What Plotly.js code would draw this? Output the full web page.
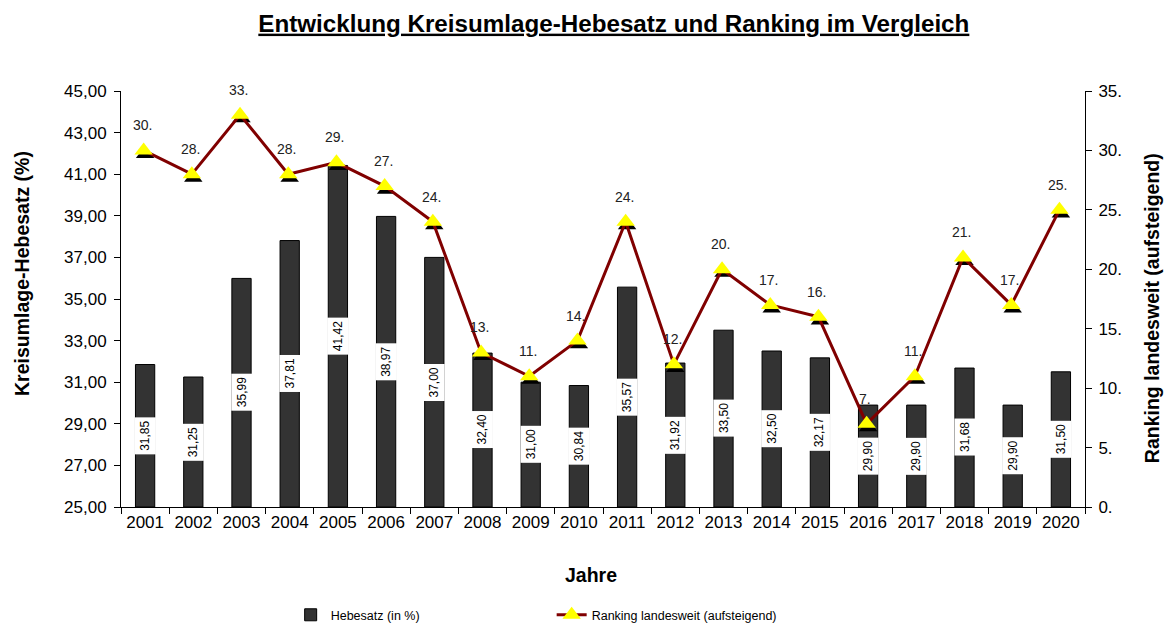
<!DOCTYPE html>
<html><head><meta charset="utf-8">
<script src="https://cdn.plot.ly/plotly-3.0.1.min.js"></script>
<style>body{margin:0;background:#fff}#c{width:1167px;height:627px}#err{position:absolute;left:0;top:0;color:red;font:12px monospace}</style>
</head><body><div id="c"></div><div id="err"></div>
<script>
window.onerror = function(m){ document.getElementById('err').textContent += ' ERR: ' + m; };
const years = ["2001","2002","2003","2004","2005","2006","2007","2008","2009","2010","2011","2012","2013","2014","2015","2016","2017","2018","2019","2020"];
const hebesatz = [31.85,31.25,35.99,37.81,41.42,38.97,37.00,32.40,31.00,30.84,35.57,31.92,33.50,32.50,32.17,29.90,29.90,31.68,29.90,31.50];
const ranking = [30,28,33,28,29,27,24,13,11,14,24,12,20,17,16,7,11,21,17,25];
const leftTicks = [25,27,29,31,33,35,37,39,41,43,45];
const rightTicks = [0,5,10,15,20,25,30,35];

const fmt = v => v.toFixed(2).replace('.', ',');
const F = 'Liberation Sans, Arial, sans-serif';

const traces = [
  {type:'bar', x:years, y:hebesatz.map(v=>v-25), base:25, name:'Hebesatz (in %)',
   marker:{color:'#333333', line:{color:'#000', width:1}}, width:0.4, xaxis:'x', yaxis:'y',
   hoverinfo:'skip'},
  {type:'scatter', mode:'markers', x:years, y:ranking, xaxis:'x', yaxis:'y2', showlegend:false,
   marker:{symbol:'triangle-up', size:16, color:'#000'}, hoverinfo:'skip'},
  {type:'scatter', mode:'lines+markers', x:years, y:ranking, xaxis:'x2', yaxis:'y3',
   name:'Ranking landesweit (aufsteigend)',
   line:{color:'#800000', width:3}, marker:{symbol:'triangle-up', size:16, color:'#ffff00', line:{width:0}}}
];

const ann = [];
for (let i = 0; i < years.length; i++) {
  ann.push({x:i, y:(25+hebesatz[i])/2, xref:'x', yref:'y', text:fmt(hebesatz[i]), showarrow:false,
    textangle:-90, bgcolor:'#ffffff', borderpad:3, font:{family:F, size:12, color:'#000'}});
  ann.push({x:i, y:ranking[i], xref:'x', yref:'y3', text:ranking[i]+'.', showarrow:false,
    yshift:25, xshift:-3, font:{family:F, size:14, color:'#222'}});
}
const titleFont = {family:F, size:19.5, color:'#000'};
const ta = {xref:'paper', yref:'paper', showarrow:false, xanchor:'center', yanchor:'middle', font:titleFont};
ann.push(Object.assign({x:-0.1027, y:0.5625, text:'<b>Kreisumlage-Hebesatz (%)</b>', textangle:-90}, ta));
ann.push(Object.assign({x:1.0695, y:0.478, text:'<b>Ranking landesweit (aufsteigend)</b>', textangle:-90}, ta));
ann.push(Object.assign({x:0.4876, y:-0.1635, text:'<b>Jahre</b>'}, ta));

const layout = {
  width:1167, height:627, paper_bgcolor:'#fff', plot_bgcolor:'#fff',
  margin:{l:121, r:82, t:91, b:120, autoexpand:false},
  font:{family:F, color:'#000'},
  title:{text:'<b>Entwicklung Kreisumlage-Hebesatz und Ranking im Vergleich</b>', x:0.526, xanchor:'center', y:0.963, yanchor:'middle',
    font:{family:F, size:24.2, color:'#000', lineposition:'under'}},
  xaxis:{type:'category', range:[-0.5,19.5], showline:true, linecolor:'#000', linewidth:1,
    ticks:'outside', tickson:'boundaries', ticklen:6, tickcolor:'#000',
    tickfont:{family:F, size:17}, showgrid:false, zeroline:false},
  xaxis2:{type:'category', overlaying:'x', range:[-0.47,19.53], visible:false, showgrid:false, zeroline:false},
  yaxis:{range:[25,45], tickvals:leftTicks, ticktext:leftTicks.map(fmt), showline:true, linecolor:'#000',
    ticks:'outside', ticklen:6, tickcolor:'#000', tickfont:{family:F, size:17}, showgrid:false, zeroline:false,
    ticklabelstandoff:4},
  yaxis2:{overlaying:'y', range:[0.3,35.3], visible:false, showgrid:false, zeroline:false},
  yaxis3:{overlaying:'y', side:'right', anchor:'x', range:[0,35], tickvals:rightTicks, ticktext:rightTicks.map(v=>v+'.'),
    showline:true, linecolor:'#000', ticks:'outside', ticklen:6, tickcolor:'#000', tickfont:{family:F, size:17},
    showgrid:false, zeroline:false, ticklabelstandoff:3},
  showlegend:true,
  legend:{orientation:'h', x:0.176, xanchor:'left', y:-0.26, yanchor:'middle', font:{family:F, size:12.5},
    entrywidth:216, entrywidthmode:'pixels', itemwidth:30, bgcolor:'rgba(0,0,0,0)'},
  annotations:ann,
  bargap:0.6
};
Plotly.newPlot('c', traces, layout, {displayModeBar:false, staticPlot:true}).catch(e=>{document.getElementById('err').textContent += ' P: ' + e;});
</script></body></html>
